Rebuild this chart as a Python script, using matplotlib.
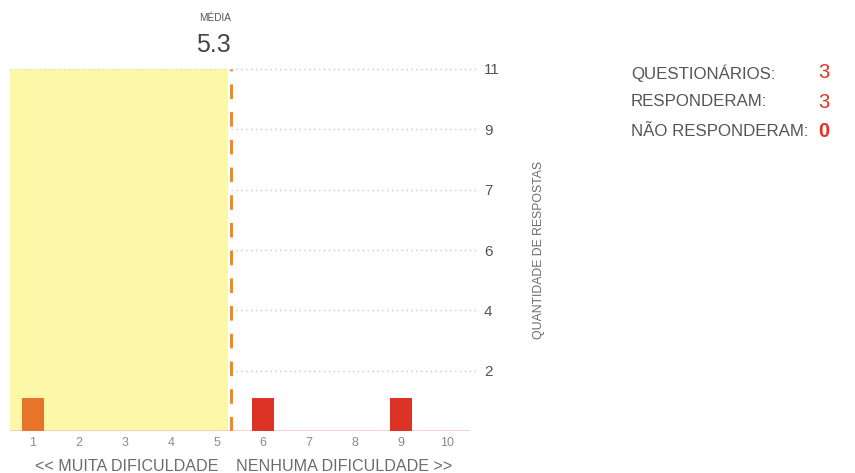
import numpy as np
import matplotlib.pyplot as plt

# data
scores = [1, 2, 3, 4, 5, 6, 7, 8, 9, 10]
counts = [1, 0, 0, 0, 0, 1, 0, 0, 1, 0]
bar_colors = ['#e8732b', '#e8732b', '#e8732b', '#e8732b', '#e8732b',
              '#dc3326', '#dc3326', '#dc3326', '#dc3326', '#dc3326']
mean_value = 5.3
y_max = 11
n_grid = 6
summary_labels = ['QUESTIONÁRIOS:', 'RESPONDERAM:', 'NÃO RESPONDERAM:']
summary_values = [3, 3, 0]

plt.rcParams['font.family'] = ['Liberation Sans', 'DejaVu Sans']
gray = '#6b6b6b'

fig = plt.figure(figsize=(8.55, 4.73), dpi=100)
ax = fig.add_axes([10 / 855, 1 - 431 / 473, 460 / 855, 362 / 473])
ax.set_xlim(0.5, 10.5)
ax.set_ylim(0, y_max)

# yellow band up to the mean
ax.axvspan(0.5, mean_value - 0.07, color='#fdf7a8', zorder=0, lw=0)

# dotted grid on the right side of the mean
grid_vals = [y_max * k / n_grid for k in range(1, n_grid + 1)]
ax.hlines(grid_vals, mean_value, 10.62, colors='#c8c8c8', linestyles=(0, (1, 2.5)),
          lw=1.0, zorder=1, clip_on=False)
ax.hlines([y_max], 0.5, mean_value, colors='#e6e0a0', linestyles=(0, (1, 2.5)),
          lw=1.0, zorder=1)

# bars
ax.bar(scores, counts, width=0.48, color=bar_colors, zorder=3)

# mean line
ax.vlines(mean_value, 0, y_max, colors='#e8892e', linestyles=(0, (5, 4.5)), lw=2.1, zorder=4)

# baseline
ax.axhline(0, color='#f2c9c9', lw=1.2, zorder=2)

for s in ax.spines.values():
    s.set_visible(False)

ax.set_xticks(scores)
ax.set_xticklabels([str(s) for s in scores], fontsize=9, color='#8a8a8a')
ax.tick_params(axis='x', length=0, pad=4)

ax.yaxis.tick_right()
ax.set_yticks(grid_vals)
ax.set_yticklabels([str(int(round(v + 1e-9))) for v in grid_vals], fontsize=11, color='#555555')
ax.tick_params(axis='y', length=0, pad=10)

ax.text(1.15, 0.5, 'QUANTIDADE DE RESPOSTAS', transform=ax.transAxes, rotation=90,
        ha='center', va='center', fontsize=8.8, color=gray)

# mean label
ax.text(mean_value, 12.55, 'MÉDIA', ha='right', va='center', fontsize=7.2, color='#555555')
ax.text(mean_value, 11.73, f'{mean_value}', ha='right', va='center', fontsize=18, color='#444444')

# bottom labels
fig.text(218 / 855, 1 - 466 / 473, '<< MUITA DIFICULDADE', ha='right', va='center',
         fontsize=11.6, color=gray)
fig.text(236 / 855, 1 - 466 / 473, 'NENHUMA DIFICULDADE >>', ha='left', va='center',
         fontsize=11.6, color=gray)

# summary block
for i, (lab, val) in enumerate(zip(summary_labels, summary_values)):
    y = 1 - (73 + 29 * i) / 473
    fig.text(631 / 855, y, lab, ha='left', va='center', fontsize=12.2, color='#555555')
    fig.text(824 / 855, y, str(val), ha='center', va='center', fontsize=14.5,
             color='#dc3326', fontweight='bold' if val == 0 else 'normal')

fig.savefig('out.png', dpi=100)
